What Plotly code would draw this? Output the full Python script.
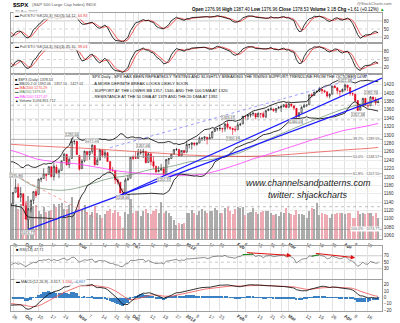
import numpy as np
import pandas as pd
import plotly.graph_objects as go

# ---------------- DATA ----------------
holidays = ['2011-11-24', '2011-12-26', '2012-01-02', '2012-01-16', '2012-02-20', '2012-04-06']
dates = pd.bdate_range('2011-09-23', '2012-04-20', freq='C', holidays=holidays)

# closes Jul 1 - Aug 19 2011 (indicator warm-up only, not drawn)
warm_close_a = [1339.67, 1337.88, 1339.22, 1353.22, 1343.80, 1319.49, 1313.64, 1317.72, 1308.87, 1316.14,
                1305.44, 1326.73, 1325.84, 1343.80, 1345.02, 1337.43, 1331.94, 1304.89, 1300.67, 1292.28,
                1286.94, 1254.05, 1260.34, 1200.07, 1199.38, 1119.46, 1172.53, 1120.76, 1172.64, 1178.81,
                1204.49, 1192.76, 1193.89, 1140.65, 1123.53]
# Aug 22 - Sep 22 2011 (indicator warm-up only, not drawn)
warm_high = [1145.49, 1162.35, 1178.56, 1190.68, 1181.23, 1210.28, 1220.10, 1230.71, 1229.29, 1203.90,
             1173.97, 1198.62, 1204.40, 1185.37, 1162.52, 1176.41, 1202.38, 1209.11, 1220.06, 1214.99,
             1220.39, 1206.30, 1164.55]
warm_low = [1121.09, 1124.36, 1156.30, 1155.47, 1135.91, 1177.91, 1195.77, 1209.35, 1203.85, 1170.56,
            1140.13, 1165.85, 1183.34, 1148.37, 1136.07, 1157.44, 1162.73, 1189.44, 1204.46, 1188.36,
            1201.29, 1166.21, 1114.22]
warm_close = [1123.82, 1162.35, 1177.60, 1159.27, 1176.80, 1210.08, 1212.92, 1218.89, 1204.42, 1173.97,
              1165.24, 1198.62, 1185.90, 1154.23, 1162.27, 1172.87, 1188.68, 1209.11, 1216.01, 1204.09,
              1202.09, 1166.76, 1129.56]

open_ = [1128.82, 1136.91, 1163.32, 1175.39, 1151.74, 1159.93,
         1131.21, 1097.42, 1124.03, 1144.11, 1165.03, 1158.15, 1194.60, 1196.19, 1206.96, 1205.65, 1224.47, 1200.75, 1223.46, 1209.92, 1215.39, 1238.72, 1254.19, 1229.17, 1243.97, 1284.39, 1284.96,
         1251.00, 1219.62, 1238.25, 1260.82, 1253.21, 1261.12, 1275.18, 1229.59, 1240.12, 1263.85, 1251.70, 1257.81, 1236.56, 1216.19, 1215.62, 1192.98, 1187.48, 1161.41, 1158.67, 1192.56, 1196.72,
         1246.91, 1246.03, 1244.33, 1257.19, 1258.14, 1260.87, 1234.48, 1255.05, 1236.83, 1225.73, 1212.12, 1216.09, 1219.74, 1205.72, 1241.25, 1243.72, 1254.00, 1265.02, 1265.38, 1249.75, 1262.82,
         1258.86, 1277.03, 1277.30, 1280.93, 1277.83, 1280.77, 1292.02, 1292.48, 1294.82, 1290.22, 1293.65, 1308.07, 1314.49, 1315.29, 1315.96, 1314.40, 1326.28, 1318.25, 1316.16, 1313.53,
         1312.45, 1324.24, 1326.21, 1344.32, 1344.33, 1347.04, 1349.97, 1351.21, 1343.06, 1351.30, 1350.52, 1342.61, 1358.06, 1361.22, 1362.11, 1357.53, 1363.46, 1365.20, 1367.56, 1372.20,
         1365.90, 1374.09, 1369.59, 1363.63, 1343.39, 1352.65, 1365.97, 1370.78, 1371.92, 1395.95, 1394.17, 1402.55, 1404.17, 1409.59, 1405.52, 1402.89, 1392.78, 1397.11, 1416.55, 1412.52, 1405.39, 1403.31,
         1408.47, 1418.98, 1413.09, 1398.79, 1397.45, 1382.18, 1358.98, 1368.77, 1387.61, 1370.27, 1369.57, 1390.78, 1385.08, 1376.96]
high = [1141.72, 1164.19, 1195.86, 1184.71, 1175.87, 1159.93,
        1138.99, 1125.12, 1146.07, 1165.55, 1171.40, 1194.91, 1199.24, 1220.25, 1207.46, 1224.61, 1224.47, 1233.10, 1229.64, 1219.53, 1239.03, 1256.55, 1254.19, 1246.28, 1292.66, 1287.08, 1284.96,
        1251.00, 1242.48, 1263.21, 1260.82, 1261.70, 1277.55, 1275.18, 1246.22, 1266.98, 1263.85, 1264.25, 1259.61, 1237.73, 1223.51, 1215.62, 1196.81, 1187.48, 1172.66, 1197.35, 1203.67, 1247.11,
        1251.09, 1260.08, 1266.73, 1266.03, 1267.06, 1260.87, 1258.25, 1255.05, 1249.86, 1225.73, 1225.60, 1231.04, 1224.57, 1242.82, 1245.09, 1255.22, 1265.42, 1269.37, 1265.85, 1263.54, 1264.12,
        1284.62, 1278.73, 1283.05, 1281.84, 1281.99, 1296.46, 1293.80, 1296.82, 1294.82, 1303.00, 1308.11, 1315.49, 1315.38, 1322.28, 1315.96, 1328.30, 1333.47, 1320.06, 1316.16, 1321.41,
        1330.52, 1329.19, 1345.34, 1344.36, 1349.24, 1351.00, 1354.32, 1351.21, 1353.35, 1351.30, 1355.87, 1359.02, 1363.40, 1367.76, 1362.70, 1364.24, 1368.92, 1371.94, 1373.09, 1378.04,
        1376.17, 1374.53, 1369.59, 1363.63, 1354.85, 1368.72, 1374.76, 1373.04, 1396.13, 1399.42, 1402.63, 1405.88, 1414.00, 1409.59, 1407.75, 1402.89, 1399.18, 1416.58, 1419.15, 1413.65, 1405.39, 1410.89,
        1422.38, 1419.00, 1413.09, 1401.60, 1397.45, 1383.01, 1374.71, 1388.13, 1387.61, 1379.66, 1392.76, 1390.78, 1390.46, 1387.40]
low = [1121.36, 1131.07, 1163.32, 1150.40, 1139.93, 1131.34,
       1098.92, 1074.77, 1115.68, 1134.95, 1150.26, 1158.15, 1187.30, 1196.19, 1190.58, 1205.65, 1198.55, 1191.48, 1206.31, 1197.34, 1215.39, 1238.72, 1226.79, 1221.06, 1243.97, 1277.01, 1253.16,
       1215.42, 1219.62, 1234.81, 1238.92, 1240.75, 1254.99, 1226.64, 1227.70, 1240.12, 1246.68, 1244.34, 1235.67, 1209.43, 1211.36, 1183.16, 1181.65, 1161.79, 1158.66, 1158.67, 1191.80, 1196.72,
       1239.73, 1243.35, 1244.33, 1253.03, 1244.80, 1231.47, 1234.48, 1227.25, 1219.43, 1209.47, 1212.12, 1215.20, 1202.37, 1205.72, 1229.51, 1243.72, 1254.00, 1262.30, 1248.64, 1249.75, 1257.46,
       1258.86, 1268.10, 1265.26, 1273.34, 1274.55, 1280.77, 1285.41, 1285.77, 1277.58, 1290.22, 1290.99, 1308.07, 1309.17, 1309.89, 1306.06, 1307.65, 1313.60, 1311.72, 1300.49, 1306.69,
       1312.45, 1321.57, 1326.21, 1337.52, 1335.92, 1341.95, 1344.63, 1337.35, 1343.06, 1340.83, 1340.80, 1341.22, 1357.24, 1358.11, 1355.53, 1352.28, 1363.46, 1354.92, 1365.97, 1363.81,
       1365.90, 1366.42, 1359.13, 1340.03, 1343.39, 1352.65, 1365.97, 1366.69, 1371.92, 1389.97, 1394.17, 1401.47, 1402.43, 1397.68, 1400.64, 1388.73, 1386.87, 1397.11, 1411.95, 1397.20, 1391.56, 1401.42,
       1404.46, 1404.62, 1394.09, 1392.92, 1378.24, 1357.38, 1358.98, 1368.77, 1369.85, 1365.38, 1369.57, 1383.29, 1370.30, 1376.96]
close = [1136.43, 1162.95, 1175.38, 1151.06, 1160.40, 1131.42,
         1099.23, 1123.95, 1144.03, 1164.97, 1155.46, 1194.89, 1195.54, 1207.25, 1203.66, 1224.58, 1200.86, 1225.38, 1209.88, 1215.39, 1238.25, 1254.19, 1229.05, 1242.00, 1284.59, 1285.09, 1253.30,
         1218.28, 1237.90, 1261.15, 1253.23, 1261.12, 1275.92, 1229.10, 1239.69, 1263.85, 1251.78, 1257.81, 1236.91, 1216.13, 1215.65, 1192.98, 1188.04, 1161.79, 1158.67, 1192.55, 1195.19, 1246.96,
         1244.58, 1244.28, 1257.08, 1258.47, 1261.01, 1234.35, 1255.19, 1236.47, 1225.73, 1211.82, 1215.75, 1219.66, 1205.35, 1241.30, 1243.72, 1254.00, 1265.33, 1265.43, 1249.64, 1263.02, 1257.60,
         1277.06, 1277.30, 1281.06, 1277.81, 1280.70, 1292.08, 1292.48, 1295.50, 1289.09, 1293.67, 1308.04, 1314.50, 1315.38, 1316.00, 1314.65, 1326.06, 1318.43, 1316.33, 1313.01, 1312.41,
         1324.09, 1325.54, 1344.90, 1344.33, 1347.05, 1349.96, 1351.95, 1342.64, 1351.77, 1350.50, 1343.23, 1358.04, 1361.23, 1362.21, 1357.66, 1363.46, 1365.74, 1367.59, 1372.18, 1365.68,
         1374.09, 1369.63, 1364.33, 1343.36, 1352.63, 1365.91, 1370.87, 1371.09, 1395.95, 1394.28, 1402.60, 1404.17, 1409.75, 1405.52, 1402.89, 1392.78, 1397.11, 1416.51, 1412.52, 1405.54, 1403.28, 1408.47,
         1419.04, 1413.38, 1398.96, 1398.08, 1382.20, 1358.59, 1368.71, 1387.57, 1370.26, 1369.57, 1390.78, 1385.14, 1376.92, 1378.53]
volume_b = [5.2, 4.8, 5.0, 4.3, 5.0, 4.6,
            5.5, 6.2, 5.0, 4.8, 4.9, 4.0, 3.6, 4.6, 3.9, 4.1, 4.2, 5.1, 4.6, 5.0, 5.2, 4.3, 4.3, 4.9, 6.0, 3.8, 4.3,
            5.6, 4.3, 4.9, 3.9, 3.4, 3.9, 4.7, 3.8, 3.4, 3.0, 3.6, 4.0, 4.3, 3.8, 4.2, 3.9, 3.3, 1.6, 3.9, 3.6, 5.8,
            3.8, 4.1, 4.0, 3.3, 4.0, 4.3, 3.8, 3.6, 4.1, 4.3, 3.8, 5.3, 3.7, 4.0, 3.8, 3.3, 2.7, 2.1, 2.3, 2.2, 2.3,
            3.8, 3.8, 4.2, 3.7, 3.4, 4.0, 4.3, 4.1, 3.7, 4.0, 4.1, 4.5, 4.2, 3.8, 3.8, 4.5, 4.6, 4.0, 3.6, 4.3,
            4.6, 4.4, 4.6, 3.4, 3.7, 3.9, 4.4, 3.9, 3.6, 3.9, 4.1, 4.1, 4.0, 3.8, 3.5, 3.6, 3.3, 3.9, 3.8, 4.5,
            3.8, 3.6, 3.5, 4.2, 3.6, 3.6, 3.4, 3.1, 4.1, 4.5, 4.3, 5.2, 3.5, 3.7, 3.6, 3.4, 3.1, 3.6, 3.6, 3.7, 3.8, 3.8,
            3.6, 3.8, 3.8, 3.1, 3.1, 4.1, 3.6, 3.8, 3.6, 3.8, 3.7, 3.3, 3.8, 3.1]

ma_x = [0, 5, 10, 15, 20, 25, 30, 35, 40, 45, 50, 55, 60, 65, 70, 75, 80, 85, 90, 95, 100, 105, 110, 115, 120, 125, 130, 135, 140, 144]
ma50 = [1211, 1192, 1176, 1170, 1168, 1172, 1180, 1190, 1198, 1202, 1210, 1218, 1222, 1228, 1236, 1238, 1243, 1250, 1258, 1272,
        1287, 1300, 1313, 1326, 1338, 1350, 1361, 1370, 1376, 1379.6]
ma100 = [1264, 1254, 1243, 1238, 1234, 1232, 1227, 1222, 1216, 1212, 1209, 1207, 1205, 1204, 1204, 1206, 1213, 1222, 1232, 1243,
         1252, 1262, 1272, 1282, 1292, 1301, 1310, 1316, 1322, 1327.5]
ma200_x = [0, 10, 20, 30, 40, 50, 60, 70, 80, 90, 100, 110, 120, 130, 140, 144]
ma200 = [1278, 1274, 1271, 1268, 1264, 1260, 1256, 1252, 1250, 1249, 1250, 1254, 1259, 1264, 1268, 1270.3]

# trendlines drawn on the chart (bar position, price)
trend_a_x, trend_a_y = [7, 145.5], [1074.77, 1388.8]
trend_c_x, trend_c_y = [44, 145.5], [1158.66, 1435.9]
trend_d_x, trend_d_y = [39, 145.5], [1269.7, 1452.9]
red_dn_x, red_dn_y = [0.2, 33.9], [1208.9, 1100.7]

fib_pct = ['38.2%', '50.0%', '61.8%', '100.0%']
fib_val = [1289.59, 1248.57, 1207.55, 1074.77]
level_val = [1371.0, 1336.0, 1129.0]

peak_x = [2, 24, 32, 52, 85, 131, 141]
peak_v = [1195.86, 1292.66, 1277.55, 1267.06, 1333.47, 1422.38, 1392.76]
trough_x = [7, 44, 60, 87, 112, 136]
trough_v = [1074.77, 1158.66, 1202.37, 1300.49, 1340.03, 1357.38]

div_x0 = [92, 119]
div_y0 = [80, 78]
div_x1 = [110, 135]
div_y1 = [71, 64]

tick_dates = ['2011-09-26', '2011-10-03', '2011-10-10', '2011-10-17', '2011-10-24', '2011-11-01', '2011-11-07',
              '2011-11-14', '2011-11-21', '2011-11-28', '2011-12-01', '2011-12-05', '2011-12-12', '2011-12-19',
              '2011-12-27', '2012-01-03', '2012-01-09', '2012-01-17', '2012-01-23', '2012-02-01', '2012-02-06',
              '2012-02-13', '2012-02-21', '2012-02-27', '2012-03-01', '2012-03-12', '2012-03-19', '2012-03-26',
              '2012-04-02', '2012-04-09', '2012-04-16']
tick_labels = ['26', '<b>Oct</b>', '10', '17', '24', '<b>Nov</b>', '7', '14', '21', '28', '<b>Dec</b>', '5', '12', '19',
               '27', '<b>2012</b>', '9', '17', '23', '<b>Feb</b>', '6', '13', '21', '27', '<b>Mar</b>', '12', '19', '26',
               '<b>Apr</b>', '9', '16']
price_ticks = list(range(1060, 1421, 20))

# ---------------- INDICATORS ----------------
n = len(close)
xpos = np.arange(n)
o = np.array(open_); h = np.array(high); l = np.array(low); c = np.array(close)
c_all = pd.Series(warm_close_a + warm_close + close, dtype=float)
h_all = pd.Series([np.nan] * len(warm_close_a) + warm_high + high, dtype=float)
l_all = pd.Series([np.nan] * len(warm_close_a) + warm_low + low, dtype=float)

sma20 = c_all.rolling(20).mean()
sd20 = c_all.rolling(20).std(ddof=0)
bb_up = (sma20 + 2 * sd20).iloc[-n:].values
bb_lo = (sma20 - 2 * sd20).iloc[-n:].values
bb_mid = sma20.iloc[-n:].values


def full_sto(k):
    ll = l_all.rolling(k).min()
    hh = h_all.rolling(k).max()
    fast = 100 * (c_all - ll) / (hh - ll)
    fk = fast.rolling(3).mean()
    fd = fk.rolling(3).mean()
    return fk.iloc[-n:].values, fd.iloc[-n:].values


sto20_k, sto20_d = full_sto(20)
sto14_k, sto14_d = full_sto(14)

d = c_all.diff()
ag = d.clip(lower=0).ewm(alpha=1 / 14, adjust=False).mean()
al = (-d.clip(upper=0)).ewm(alpha=1 / 14, adjust=False).mean()
rsi = (100 - 100 / (1 + ag / al)).iloc[-n:].values

ema12 = c_all.ewm(span=12, adjust=False).mean()
ema26 = c_all.ewm(span=26, adjust=False).mean()
macd_all = ema12 - ema26
sig_all = macd_all.ewm(span=9, adjust=False).mean()
macd = macd_all.iloc[-n:].values
sig = sig_all.iloc[-n:].values
hist = macd - sig

prev_c = np.concatenate([[warm_close[-1]], c[:-1]])
up_day = c >= prev_c
vol_colors = np.where(up_day, '#ababab', '#eeaab2')

tickvals = [int(dates.get_loc(pd.Timestamp(t))) for t in tick_dates]

# ---------------- FIGURE ----------------
W, H = 400, 323
FONT = 'Liberation Sans, Arial, sans-serif'


def py(p):
    return 1 - p / H


XD = [11 / W, 382 / W]
fig = go.Figure()

# volume (base of price panel)
fig.add_trace(go.Bar(x=xpos, y=volume_b, marker=dict(color=vol_colors, line=dict(width=0)), width=0.8,
                     xaxis='x3', yaxis='y3', hoverinfo='skip'))

# fib & level lines
for v in fib_val:
    fig.add_trace(go.Scatter(x=[0.2, 145.5], y=[v, v], mode='lines', line=dict(color='#8c8c8c', width=0.7),
                             xaxis='x3', yaxis='y6', hoverinfo='skip'))
for v in level_val:
    fig.add_trace(go.Scatter(x=[0.2, 145.5], y=[v, v], mode='lines', line=dict(color='#9a9a9a', width=0.6, dash='dot'),
                             xaxis='x3', yaxis='y6', hoverinfo='skip'))

# moving averages
fig.add_trace(go.Scatter(x=ma200_x, y=ma200, mode='lines', line=dict(color='#e8403a', width=0.7, shape='spline'),
                         xaxis='x3', yaxis='y6'))
fig.add_trace(go.Scatter(x=ma_x, y=ma100, mode='lines', line=dict(color='#ff3cff', width=0.8, shape='spline'),
                         xaxis='x3', yaxis='y6'))
fig.add_trace(go.Scatter(x=ma_x, y=ma50, mode='lines', line=dict(color='#4f7a4f', width=0.6, shape='spline'),
                         xaxis='x3', yaxis='y6'))
# bollinger
fig.add_trace(go.Scatter(x=xpos, y=bb_up, mode='lines', line=dict(color='#000', width=0.8), xaxis='x3', yaxis='y6'))
fig.add_trace(go.Scatter(x=xpos, y=bb_lo, mode='lines', line=dict(color='#000', width=0.8), xaxis='x3', yaxis='y6'))

# trendlines
fig.add_trace(go.Scatter(x=trend_a_x, y=trend_a_y, mode='lines', line=dict(color='#1a1aff', width=1.3), xaxis='x3', yaxis='y6'))
fig.add_trace(go.Scatter(x=trend_c_x, y=trend_c_y, mode='lines', line=dict(color='#1a1aff', width=1.3), xaxis='x3', yaxis='y6'))
fig.add_trace(go.Scatter(x=trend_d_x, y=trend_d_y, mode='lines', line=dict(color='#5a5aff', width=0.6, dash='dot'), xaxis='x3', yaxis='y6'))
fig.add_trace(go.Scatter(x=red_dn_x, y=red_dn_y, mode='lines', line=dict(color='#f06060', width=0.6, dash='dot'), xaxis='x3', yaxis='y6'))

# candles: black = up vs previous close, red = down; hollow = close > open
for mask, col in [(up_day, '#111111'), (~up_day, '#e0001b')]:
    fig.add_trace(go.Candlestick(x=xpos[mask], open=o[mask], high=h[mask], low=l[mask], close=c[mask],
                                 increasing=dict(line=dict(color=col, width=0.6), fillcolor='white'),
                                 decreasing=dict(line=dict(color=col, width=0.6), fillcolor=col),
                                 whiskerwidth=0, xaxis='x3', yaxis='y6', hoverinfo='skip'))

# STO panels
fig.add_trace(go.Scatter(x=xpos, y=sto20_d, mode='lines', line=dict(color='#f03030', width=0.8), xaxis='x', yaxis='y'))
fig.add_trace(go.Scatter(x=xpos, y=sto20_k, mode='lines', line=dict(color='#000', width=0.8), xaxis='x', yaxis='y'))
fig.add_trace(go.Scatter(x=xpos, y=sto14_d, mode='lines', line=dict(color='#f03030', width=0.8), xaxis='x2', yaxis='y2'))
fig.add_trace(go.Scatter(x=xpos, y=sto14_k, mode='lines', line=dict(color='#000', width=0.8), xaxis='x2', yaxis='y2'))

# RSI
fig.add_trace(go.Scatter(x=xpos, y=rsi, mode='lines', line=dict(color='#444', width=0.6), xaxis='x4', yaxis='y4'))
for a, b in [(91, 96), (118, 122)]:
    fig.add_trace(go.Scatter(x=xpos[a:b], y=rsi[a:b], mode='lines', line=dict(color='#1f8a1f', width=1.2),
                             xaxis='x4', yaxis='y4'))

# MACD
fig.add_trace(go.Bar(x=xpos, y=hist, marker=dict(color='#3a80c4', line=dict(width=0)), width=0.75,
                     xaxis='x5', yaxis='y5'))
fig.add_trace(go.Scatter(x=xpos, y=sig, mode='lines', line=dict(color='#f05050', width=0.8), xaxis='x5', yaxis='y5'))
fig.add_trace(go.Scatter(x=xpos, y=macd, mode='lines', line=dict(color='#000', width=0.8), xaxis='x5', yaxis='y5'))

# ---------------- AXES ----------------
tickfont = dict(size=4.6, color='#333', family=FONT)
xcommon = dict(range=[0.2, 145.5], tickvals=tickvals, ticktext=tick_labels, showgrid=True, gridcolor='#e2e2e2',
               gridwidth=0.5, showline=True, linecolor='#a0a0a0', linewidth=0.6, mirror=True, ticks='',
               zeroline=False, tickfont=tickfont, domain=XD, fixedrange=True)
ycommon = dict(side='right', ticks='', showline=True, linecolor='#a0a0a0', linewidth=0.6, mirror=True,
               zeroline=False, tickfont=tickfont, fixedrange=True)

layout = dict(
    width=W, height=H, margin=dict(l=0, r=0, t=0, b=0), paper_bgcolor='white', plot_bgcolor='white',
    showlegend=False, hovermode=False, bargap=0,
    xaxis=dict(xcommon, anchor='y', showticklabels=False),
    xaxis2=dict(xcommon, anchor='y2', showticklabels=False),
    xaxis3=dict(xcommon, anchor='y3', showticklabels=True, rangeslider=dict(visible=False)),
    xaxis4=dict(xcommon, anchor='y4', showticklabels=False),
    xaxis5=dict(xcommon, anchor='y5', showticklabels=True),
    yaxis=dict(ycommon, domain=[py(44), py(13)], range=[-3, 110], tickvals=[20, 50, 80], showgrid=False, anchor='x'),
    yaxis2=dict(ycommon, domain=[py(75), py(44)], range=[-3, 110], tickvals=[20, 50, 80], showgrid=False, anchor='x2'),
    yaxis3=dict(ycommon, domain=[py(243), py(75)], range=[0, 23.5], showticklabels=False, showgrid=False, anchor='x3'),
    yaxis6=dict(ycommon, overlaying='y3', anchor='x3', range=[1051.4, 1445.8], tickvals=price_ticks,
                showgrid=True, gridcolor='#ececec', gridwidth=0.5),
    yaxis4=dict(ycommon, domain=[py(283), py(250)], range=[-1, 100], tickvals=[30, 50, 70], showgrid=False, anchor='x4'),
    yaxis5=dict(ycommon, domain=[py(316), py(284)], range=[-21.5, 27.7], tickvals=[-20, -10, 0, 10, 20],
                showgrid=False, anchor='x5'),
)
fig.update_layout(**layout)

# level lines in oscillator panels
shapes = []
for yr, xr in [('y', 'x'), ('y2', 'x2')]:
    for lv, dash, col in [(80, 'solid', '#a8a8a8'), (50, 'dot', '#b8b8b8'), (20, 'solid', '#a8a8a8')]:
        shapes.append(dict(type='line', xref=xr + ' domain', x0=0, x1=1, yref=yr, y0=lv, y1=lv,
                           line=dict(color=col, width=0.6, dash=dash), layer='below'))
for lv, dash in [(70, 'solid'), (50, 'dot'), (30, 'solid')]:
    shapes.append(dict(type='line', xref='x4 domain', x0=0, x1=1, yref='y4', y0=lv, y1=lv,
                       line=dict(color='#a8a8a8', width=0.6, dash=dash), layer='below'))
shapes.append(dict(type='line', xref='x5 domain', x0=0, x1=1, yref='y5', y0=0, y1=0,
                   line=dict(color='#b0b0b0', width=0.5, dash='dot'), layer='below'))
fig.update_layout(shapes=shapes)


# ---------------- TEXT ----------------
def txt(x, y, s, size=4.2, color='#000', xanchor='left', yanchor='middle', **kw):
    fig.add_annotation(x=x / W, y=py(y), xref='paper', yref='paper', text=s, showarrow=False,
                       xanchor=xanchor, yanchor=yanchor, font=dict(size=size, color=color, family=FONT), **kw)


txt(12, 5, '<b>$SPX</b>', size=6.0, borderpad=0)
txt(31, 5, '(S&P 500 Large Cap Index) INDX', size=4.3, color='#555', borderpad=0)
txt(13, 12, '20-Apr-2012', size=4.0, color='#444')
txt(394, 3.5, '@StockCharts.com', size=4.0, color='#666', xanchor='right')
txt(386, 10, '<b>Open</b> 1376.96 <b>High</b> 1387.40 <b>Low</b> 1376.96 <b>Close</b> 1378.53 '
             '<b>Volume</b> 3.1B <b>Chg</b> +1.61 (+0.12%) <span style="color:#20a020">▲</span>',
    size=4.5, xanchor='right')

txt(13, 15.5, '<span style="color:#000">▬</span> Full STO %K(20,3) %D(3) 54.12, <span style="color:#e03030">64.93</span>',
    size=3.9, color='#333', bgcolor='rgba(255,255,255,0.85)')
txt(13, 47, '<span style="color:#000">▬</span> Full STO %K(14,3) %D(3) 35.10, <span style="color:#e03030">39.03</span>',
    size=3.9, color='#333', bgcolor='rgba(255,255,255,0.85)')

bbtxt = 'BB(20,2.0) %.2f - %.2f - %.2f' % (bb_mid[-1], bb_lo[-1], bb_up[-1])
legend_lines = [
    ('<span style="color:#000">■</span> $SPX (Daily) 1378.53', '#333'),
    ('<span style="color:#000">▬</span> ' + bbtxt, '#333'),
    ('<span style="color:#e8403a">▬ MA(200) 1270.29</span>', '#e8403a'),
    ('<span style="color:#4f7a4f">▬ MA(50) 1379.59</span>', '#4f7a4f'),
    ('<span style="color:#ff3cff">▬ MA(100) 1327.47</span>', '#ff3cff'),
    ('<span style="color:#000">▲</span> Volume 3,094,851,712', '#333'),
]
for i, (s, col) in enumerate(legend_lines):
    txt(14, 81 + i * 4.3, s, size=3.6, color=col, bgcolor='white', borderpad=0)

comment = ['SPX Daily - SPX HAS BEEN REPEATEDLY TESTING AND SLIGHTLY BREAKING THE RISING SUPPORT TRENDLINE FROM THE OCTOBER LOW',
           '- A MORE DEFINITE BREAK LOOKS LIKELY SOON',
           '- SUPPORT AT THE LOWER BB 1357, 1340, AND THE 100 DMA AT 1320',
           '- RESISTANCE AT THE 50 DMA AT 1379 AND THE 20 DMA AT 1392']
for i, s in enumerate(comment):
    txt(90, 77.5 + i * 7, s, size=4.1, color='#111')

txt(308, 191.5, '<i>www.channelsandpatterns.com</i>', size=9, color='#222', xanchor='center', yanchor='bottom',
    borderpad=0)
txt(308, 191.5, '<i>twitter: shjackcharts</i>', size=9, color='#222', xanchor='center', yanchor='top',
    borderpad=0)

for p, v in zip(fib_pct, fib_val):
    fig.add_annotation(x=0.995, xref='x3 domain', y=v, yref='y6', text='%s : %.2f' % (p, v), showarrow=False,
                       xanchor='right', yanchor='middle', bgcolor='white', borderpad=0,
                       font=dict(size=3.6, color='#555', family=FONT))

for xx, v in zip(peak_x, peak_v):
    fig.add_annotation(x=xx, xref='x3', y=v, yref='y6', text='%.2f' % v, showarrow=False, xanchor='center',
                       yanchor='bottom', yshift=1, bgcolor='white', bordercolor='#999', borderwidth=0.4, borderpad=0.3,
                       font=dict(size=3.5, color='#444', family=FONT))
for xx, v in zip(trough_x, trough_v):
    fig.add_annotation(x=xx, xref='x3', y=v, yref='y6', text='%.2f' % v, showarrow=False, xanchor='center',
                       yanchor='top', yshift=-1, bgcolor='white', bordercolor='#999', borderwidth=0.4, borderpad=0.3,
                       font=dict(size=3.5, color='#444', family=FONT))

for a0, b0, a1, b1 in zip(div_x0, div_y0, div_x1, div_y1):
    fig.add_annotation(x=a1, y=b1, xref='x4', yref='y4', ax=a0, ay=b0, axref='x4', ayref='y4', text='',
                       showarrow=True, arrowhead=2, arrowsize=0.9, arrowwidth=1.0, arrowcolor='#e01010')

txt(14, 253.5, '<span style="color:#000">■</span> RSI(14) 47.71', size=3.9, color='#333')
txt(14, 286, '<span style="color:#000">▬</span> MACD(12,26,9) -3.317, <span style="color:#e03030">1.550</span>, '
             '<span style="color:#3a80c4">-4.867</span>', size=3.9, color='#333', bgcolor='rgba(255,255,255,0.8)')

fig.write_html('out.html')
